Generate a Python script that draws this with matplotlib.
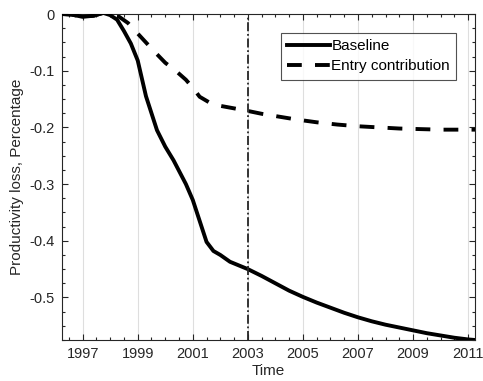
import matplotlib

matplotlib.use("Agg")

import matplotlib.pyplot as plt
from matplotlib.ticker import FixedLocator, FuncFormatter, MultipleLocator

plt.rcParams["font.family"] = ["Liberation Sans", "DejaVu Sans"]

INK = "#262626"
GRID = "#dedede"

# values
base_years = [1996.25, 1996.6, 1997.0, 1997.4, 1997.75, 1998.0, 1998.25, 1998.5,
              1998.75, 1999.0, 1999.3, 1999.7, 2000.0, 2000.3, 2000.75, 2001.0,
              2001.25, 2001.5, 2001.75, 2002.0, 2002.35, 2002.7, 2003.0, 2003.5,
              2004.0, 2004.5, 2005.0, 2005.5, 2006.0, 2006.5, 2007.0, 2007.5,
              2008.0, 2008.5, 2009.0, 2009.5, 2010.0, 2010.5, 2011.0, 2011.25]
baseline = [0.0, -0.001, -0.005, -0.003, 0.002, -0.002, -0.010, -0.030,
            -0.052, -0.082, -0.145, -0.205, -0.234, -0.258, -0.300, -0.328,
            -0.365, -0.402, -0.418, -0.425, -0.437, -0.444, -0.450, -0.462,
            -0.475, -0.488, -0.499, -0.509, -0.518, -0.527, -0.535, -0.542,
            -0.548, -0.553, -0.558, -0.563, -0.567, -0.571, -0.574, -0.575]

entry_years = [1996.25, 1996.6, 1997.0, 1997.4, 1997.75, 1998.0, 1998.3, 1998.65,
               1999.2, 1999.6, 2000.0, 2000.4, 2000.75, 2001.0, 2001.25, 2001.6,
               2002.0, 2002.45, 2003.0, 2003.5, 2004.0, 2004.75, 2005.5, 2006.25,
               2007.0, 2007.75, 2008.5, 2009.25, 2010.0, 2010.75, 2011.25]
entry = [0.0, -0.001, -0.005, -0.003, 0.002, -0.001, -0.004, -0.016,
         -0.045, -0.066, -0.086, -0.101, -0.116, -0.130, -0.146, -0.156,
         -0.162, -0.166, -0.171, -0.176, -0.180, -0.186, -0.191, -0.195,
         -0.198, -0.200, -0.202, -0.203, -0.204, -0.204, -0.204]

major_years = [1997, 1999, 2001, 2003, 2005, 2007, 2009, 2011]
marker_year = 2003

fig = plt.figure(figsize=(4.83, 3.81), dpi=100, facecolor="white")
ax = fig.add_axes([62 / 483, 1 - 340 / 381, 413 / 483, 326 / 381])

for yr in major_years:
    ax.axvline(yr, color=GRID, linewidth=0.8, zorder=0)

ax.plot(base_years, baseline, color="black", linewidth=2.8, label="Baseline", zorder=3)
ax.plot(entry_years, entry, color="black", linewidth=2.8, dashes=(3.8, 3.4),
        label="Entry contribution", zorder=2)
ax.axvline(marker_year, color=INK, linewidth=1.3, linestyle=(0, (5, 1.5, 1, 1.5)), zorder=4)

ax.set_xlim(1996.25, 2011.25)
ax.set_ylim(-0.575, 0.0)
ax.xaxis.set_major_locator(FixedLocator(major_years))
ax.xaxis.set_minor_locator(MultipleLocator(0.5))
ax.yaxis.set_major_locator(MultipleLocator(0.1))
ax.yaxis.set_minor_locator(MultipleLocator(0.025))
ax.yaxis.set_major_formatter(FuncFormatter(lambda v, _: "0" if abs(v) < 1e-9 else f"{v:.1f}"))

ax.tick_params(which="both", direction="in", top=True, right=True, colors=INK,
               labelsize=10.5, width=0.8)
ax.tick_params(which="major", length=4, pad=5)
ax.tick_params(which="minor", length=2.5)
for spine in ax.spines.values():
    spine.set_color(INK)
    spine.set_linewidth(0.8)

ax.set_xlabel("Time", fontsize=11, color=INK, labelpad=2)
ax.set_ylabel("Productivity loss, Percentage", fontsize=11, color=INK, labelpad=4)

leg = ax.legend(loc="upper right", bbox_to_anchor=(0.955, 0.942), fontsize=11,
                frameon=True, fancybox=False, edgecolor=INK, handlelength=2.8,
                handletextpad=0.1, borderpad=0.42, labelspacing=0.4,
                borderaxespad=0.0)
leg.get_frame().set_linewidth(0.8)

fig.savefig("out.png", dpi=100, facecolor="white")
